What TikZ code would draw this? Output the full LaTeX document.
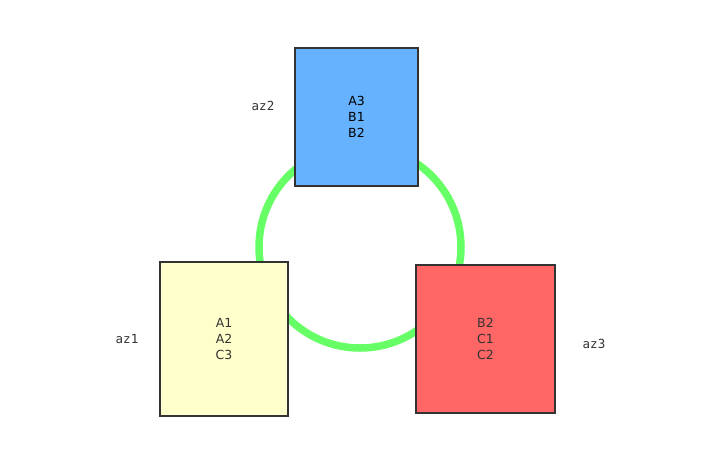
\documentclass[tikz,border=0pt]{standalone}
\usepackage{fontspec}
\setmainfont{DejaVu Sans}
\setmonofont{DejaVu Sans Mono}
\begin{document}
\begin{tikzpicture}[x=1pt,y=-1pt,
  zone/.style={draw=black!80, line width=1.5pt, inner sep=0pt, align=center,
    text=black!80, font=\fontsize{12.5}{16}\selectfont},
  azlabel/.style={font=\ttfamily\fontsize{12.5}{14}\selectfont, text=black!80}]
\definecolor{bluefill}{HTML}{66B2FF}
\definecolor{yelfill}{HTML}{FFFFCC}
\definecolor{redfill}{HTML}{FF6666}
\definecolor{ringgreen}{HTML}{66FF66}
\useasboundingbox (0,0) rectangle (706,448);
\coordinate (ringc) at (360,247);
\draw[ringgreen, line width=7.5pt] (ringc) circle[radius=101];
\node[zone, fill=bluefill, text=black, minimum width=123pt, minimum height=138pt] (az2box) at (356.5,117) {A3\\B1\\B2};
\node[zone, fill=yelfill, minimum width=128pt, minimum height=154pt] (az1box) at (224,339) {A1\\A2\\C3};
\node[zone, fill=redfill, minimum width=139pt, minimum height=148pt] (az3box) at (485.5,339) {B2\\C1\\C2};
\node[azlabel] (az2) at (263,106) {az2};
\node[azlabel] (az1) at (127,339) {az1};
\node[azlabel] (az3) at (594,344) {az3};
\end{tikzpicture}
\end{document}
